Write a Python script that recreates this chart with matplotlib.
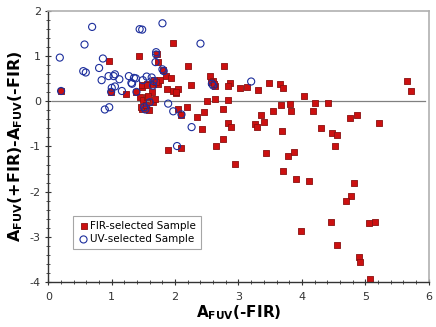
import matplotlib

matplotlib.use("Agg")
import matplotlib.pyplot as plt
from matplotlib.ticker import MultipleLocator

plt.rcParams["font.family"] = ["DejaVu Sans"]
plt.rcParams["axes.unicode_minus"] = False
plt.rcParams["mathtext.fontset"] = "dejavusans"

# FIR-selected sample: A_FUV(-FIR) vs A_FUV(+FIR) - A_FUV(-FIR)
fir_x = [0.20, 0.96, 0.99, 1.22, 1.43, 1.39, 1.47, 1.44, 1.47, 1.59, 1.55, 1.63,
         1.65, 1.66, 1.72, 1.73, 1.81, 1.85, 1.93, 1.97, 1.97, 2.04, 2.01, 1.88,
         2.09, 2.10, 2.18, 2.04, 2.20, 2.25, 2.35, 2.42, 2.45, 2.50, 2.55, 2.63,
         2.64, 2.77, 2.63, 2.59, 2.86, 2.83, 3.02, 3.14, 3.31, 3.48, 3.65, 3.71,
         4.03, 4.21, 4.41, 4.18, 3.67, 3.81, 3.83, 3.54, 2.84, 2.75, 2.84, 2.88,
         3.35, 3.26, 3.29, 3.40, 3.69, 4.30, 4.47, 4.55, 4.76, 4.87, 5.22, 5.66,
         5.72, 2.75, 2.94, 3.43, 3.78, 3.88, 4.53, 3.70, 3.91, 4.11, 4.82, 4.78,
         4.69, 4.46, 5.06, 5.16, 3.98, 4.56, 4.90, 4.92, 5.07,
         1.65, 1.73, 1.50, 1.56, 1.68, 1.46, 1.54, 1.57, 1.47, 1.56, 1.76, 1.87,
         2.57, 2.61, 1.70, 2.02]
fir_y = [0.23, 0.89, 0.21, 0.16, 1.00, 0.21, 0.32, 0.10, -0.16, -0.20, 0.39, 0.21,
         -0.02, 0.47, 1.06, 0.87, 0.69, 0.56, 0.52, 1.30, 0.24, 0.28, 0.18, -1.07,
         -1.04, -0.30, -0.13, -0.18, 0.78, 0.37, -0.35, -0.62, -0.24, 0.01, 0.56, 0.06,
         -0.98, 0.78, 0.33, 0.45, 0.41, 0.33, 0.30, 0.32, 0.26, 0.41, 0.39, 0.30,
         0.11, -0.04, -0.04, -0.22, -0.08, -0.05, -0.22, -0.22, 0.04, -0.16, -0.47, -0.57,
         -0.31, -0.51, -0.57, -0.46, -0.66, -0.58, -0.70, -0.74, -0.36, -0.31, -0.49, 0.46,
         0.23, -0.84, -1.39, -1.15, -1.22, -1.13, -1.00, -1.55, -1.71, -1.76, -1.82, -2.09,
         -2.20, -2.68, -2.70, -2.67, -2.88, -3.19, -3.44, -3.56, -3.94,
         0.38, 0.38, 0.02, 0.09, 0.06, -0.13, -0.07, 0.13, 0.36, 0.36, 0.47, 0.27,
         0.44, 0.38, 0.42, 0.20]

# UV-selected sample
uv_x = [0.18, 0.20, 0.55, 0.59, 0.57, 0.69, 0.80, 0.86, 0.84, 0.95, 1.03, 1.05,
        1.12, 1.00, 1.05, 0.99, 1.16, 0.89, 0.96, 1.27, 1.35, 1.38, 1.31, 1.39,
        1.49, 1.48, 1.80, 2.40, 1.51, 1.53, 1.55, 1.63, 1.65, 1.66, 1.60, 1.70,
        1.70, 1.69, 1.80, 1.82, 1.89, 1.97, 2.10, 2.26, 2.03, 2.58, 2.60, 3.20,
        1.44, 1.32]
uv_y = [0.97, 0.23, 0.67, 0.64, 1.26, 1.65, 0.74, 0.95, 0.47, 0.56, 0.56, 0.60,
        0.49, 0.30, 0.33, 0.21, 0.23, -0.18, -0.13, 0.56, 0.52, 0.51, 0.41, 0.21,
        0.47, 1.59, 1.73, 1.28, -0.13, -0.18, 0.55, 0.53, 0.35, 0.45, -0.02, 1.09,
        1.04, 0.87, 0.71, 0.67, -0.05, -0.22, -0.29, -0.57, -0.99, 0.39, 0.35, 0.44,
        1.60, 0.39]

x_ticks = [0, 1, 2, 3, 4, 5, 6]
y_ticks = [-4, -3, -2, -1, 0, 1, 2]

fig = plt.figure(figsize=(4.36, 3.27), dpi=100)
ax = fig.add_axes([0.111, 0.138, 0.872, 0.828])

ax.axhline(0, xmin=0.01, xmax=0.99, color="#808080", lw=0.9, zorder=1)

ax.scatter(fir_x, fir_y, marker="s", s=22, facecolor="#cc1010",
           edgecolor="#8a1010", linewidth=0.6, zorder=2,
           label="FIR-selected Sample")
ax.scatter(uv_x, uv_y, marker="o", s=26, facecolor="none",
           edgecolor="#1c2e9c", linewidth=0.8, zorder=3,
           label="UV-selected Sample")

ax.set_xlim(0, 6)
ax.set_ylim(-4, 2)
ax.set_xticks(x_ticks)
ax.set_yticks(y_ticks)
ax.xaxis.set_minor_locator(MultipleLocator(0.2))
ax.yaxis.set_minor_locator(MultipleLocator(0.2))
ax.tick_params(which="both", direction="inout", labelsize=8, colors="#333333")
ax.tick_params(which="major", length=4, width=0.8)
ax.tick_params(which="minor", length=2.5, width=0.6)
ax.tick_params(axis="x", pad=5)

for side in ["left", "bottom"]:
    ax.spines[side].set_color("#333333")
    ax.spines[side].set_linewidth(1.0)
for side in ["top", "right"]:
    ax.spines[side].set_color("#b0b0b0")
    ax.spines[side].set_linewidth(1.2)

ax.set_xlabel(r"$\mathbf{A_{FUV}}$(-FIR)", fontsize=11, fontweight="bold",
              labelpad=1)
ax.set_ylabel(r"$\mathbf{A_{FUV}}$(+FIR)-$\mathbf{A_{FUV}}$(-FIR)", fontsize=11.5,
              fontweight="bold", labelpad=3)

leg = ax.legend(loc="lower left", bbox_to_anchor=(0.065, 0.12), fontsize=7.5,
                frameon=True, fancybox=False, borderpad=0.5, handletextpad=0.1,
                handlelength=1.0, labelspacing=0.3, borderaxespad=0)
leg.get_frame().set_edgecolor("#909090")
leg.get_frame().set_linewidth(0.8)

fig.savefig("out.png", dpi=100)
